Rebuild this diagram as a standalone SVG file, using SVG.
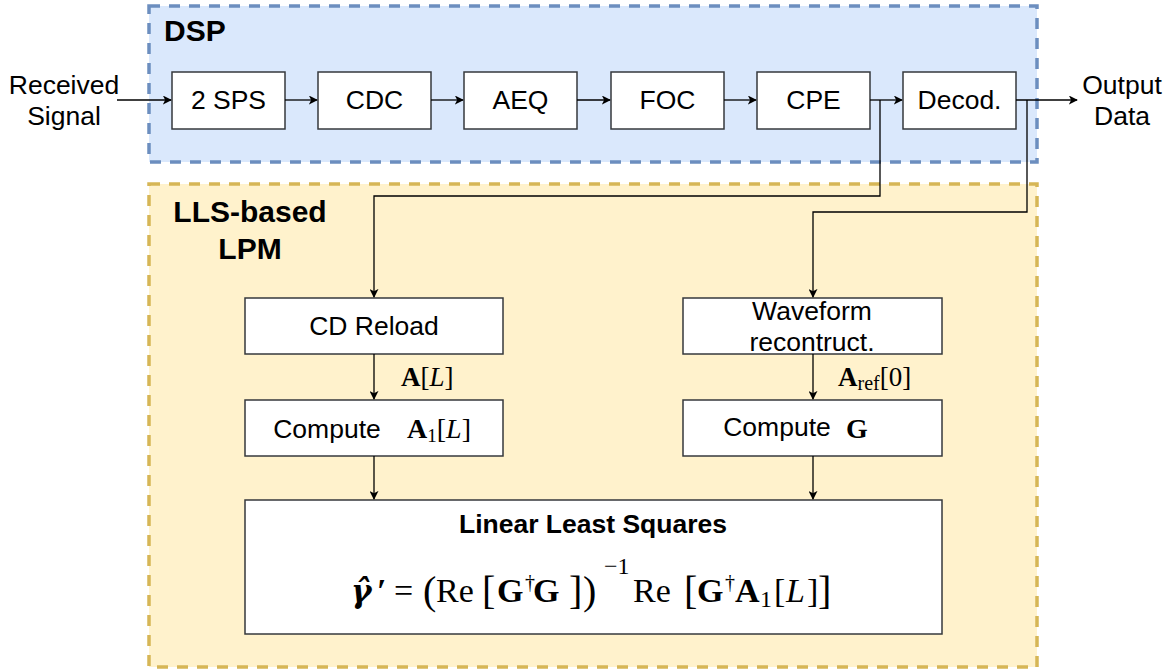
<svg xmlns="http://www.w3.org/2000/svg" width="1173" height="672" viewBox="0 0 1173 672">
  <defs>
    <marker id="arrow" viewBox="0 0 10 10" refX="9" refY="5" markerWidth="9" markerHeight="9" markerUnits="userSpaceOnUse" orient="auto">
      <path d="M0,0 L10,5 L0,10 L2.5,5 Z" fill="#000"/>
    </marker>
    <style>
      .group-dsp { fill: #dae8fc; stroke: #6c8ebf; stroke-width: 3.5; stroke-dasharray: 11 9; }
      .group-lpm { fill: #fff2cc; stroke: #d6b656; stroke-width: 3.5; stroke-dasharray: 11 9; }
      .box { fill: #ffffff; stroke: #36393d; stroke-width: 1.5; }
      .lbl { font-family: "Liberation Sans", Arial, sans-serif; font-size: 26.5px; fill: #000; text-anchor: middle; }
      .title { font-family: "Liberation Sans", Arial, sans-serif; font-size: 30px; font-weight: bold; fill: #000; }
      .subtitle { font-family: "Liberation Sans", Arial, sans-serif; font-size: 26.5px; font-weight: bold; fill: #000; text-anchor: middle; }
      .math { font-family: "Liberation Serif", "DejaVu Serif", serif; fill: #000; }
      .greek { font-family: "DejaVu Serif", serif; }
      .b { font-weight: bold; }
      .i { font-style: italic; }
      .arr { fill: none; stroke: #000; stroke-width: 1.3; marker-end: url(#arrow); }
    </style>
  </defs>

  <rect width="1173" height="672" fill="#ffffff"/>

  <!-- container groups -->
  <g id="dsp">
    <rect class="group-dsp" x="149" y="6" width="888" height="156"/>
    <text class="title" x="164" y="41">DSP</text>
  </g>
  <g id="lpm">
    <rect class="group-lpm" x="149" y="184" width="888" height="483"/>
    <text class="title" x="250" y="222" text-anchor="middle">LLS-based</text>
    <text class="title" x="250" y="259" text-anchor="middle">LPM</text>
  </g>

  <!-- inputs / outputs -->
  <g id="received">
    <text class="lbl" x="64" y="94">Received</text>
    <text class="lbl" x="64" y="125">Signal</text>
  </g>
  <g id="output">
    <text class="lbl" x="1122" y="94">Output</text>
    <text class="lbl" x="1122" y="125">Data</text>
  </g>

  <!-- DSP chain -->
  <g id="sps">
    <rect class="box" x="172" y="72" width="113" height="57"/>
    <text class="lbl" x="228.5" y="109">2 SPS</text>
  </g>
  <g id="cdc">
    <rect class="box" x="318" y="72" width="113" height="57"/>
    <text class="lbl" x="374.5" y="109">CDC</text>
  </g>
  <g id="aeq">
    <rect class="box" x="464" y="72" width="113" height="57"/>
    <text class="lbl" x="520.5" y="109">AEQ</text>
  </g>
  <g id="foc">
    <rect class="box" x="611" y="72" width="113" height="57"/>
    <text class="lbl" x="667.5" y="109">FOC</text>
  </g>
  <g id="cpe">
    <rect class="box" x="757" y="72" width="113" height="57"/>
    <text class="lbl" x="813.5" y="109">CPE</text>
  </g>
  <g id="decod">
    <rect class="box" x="903" y="72" width="113" height="57"/>
    <text class="lbl" x="959.5" y="109">Decod.</text>
  </g>

  <!-- LPM blocks -->
  <g id="cd-reload">
    <rect class="box" x="245" y="298" width="258" height="56"/>
    <text class="lbl" x="374" y="335">CD Reload</text>
  </g>
  <g id="compute-a1">
    <rect class="box" x="245" y="400" width="258" height="56"/>
    <text class="lbl" x="327" y="438">Compute</text>
    <text class="math" x="407" y="438" font-size="28"><tspan class="b">A</tspan><tspan font-size="19" dy="4">1</tspan><tspan dy="-4">[</tspan><tspan class="i">L</tspan>]</text>
  </g>
  <g id="waveform">
    <rect class="box" x="683" y="298" width="259" height="56"/>
    <text class="lbl" x="812" y="320">Waveform</text>
    <text class="lbl" x="812" y="351">recontruct.</text>
  </g>
  <g id="compute-g">
    <rect class="box" x="683" y="400" width="259" height="56"/>
    <text class="lbl" x="777" y="436">Compute</text>
    <text class="math b" x="846" y="438" font-size="28">G</text>
  </g>
  <g id="lls">
    <rect class="box" x="245" y="500" width="697" height="134"/>
    <text class="subtitle" x="593" y="533">Linear Least Squares</text>
    <text class="math" y="602" font-size="34"><tspan x="351" class="greek b i" font-size="31">γ̂</tspan><tspan x="377" class="b">′</tspan><tspan x="394">=</tspan><tspan x="423" font-size="40" dy="2">(</tspan><tspan x="436" dy="-2">Re</tspan><tspan x="482" font-size="40" dy="2">[</tspan><tspan x="497" class="b" dy="-2">G</tspan><tspan x="525" font-size="20" dy="-13">†</tspan><tspan x="533" class="b" dy="13">G</tspan><tspan x="569" font-size="40" dy="2">]</tspan><tspan x="583" font-size="40">)</tspan><tspan x="604" font-size="24" dy="-30">−1</tspan><tspan x="633" dy="28">Re</tspan><tspan x="684" font-size="40" dy="2">[</tspan><tspan x="697" class="b" dy="-2">G</tspan><tspan x="725" font-size="20" dy="-13">†</tspan><tspan x="735" class="b" dy="13">A</tspan><tspan x="760" font-size="24" dy="5">1</tspan><tspan x="774" dy="-5">[</tspan><tspan x="786" class="i">L</tspan><tspan x="807">]</tspan><tspan x="818" font-size="40" dy="2">]</tspan></text>
  </g>

  <!-- connectors -->
  <g id="connectors">
    <path class="arr" d="M117,100 H171"/>
    <path class="arr" d="M285,100 H317"/>
    <path class="arr" d="M431,100 H463"/>
    <path class="arr" d="M577,100 H610"/>
    <path class="arr" d="M724,100 H756"/>
    <path class="arr" d="M870,100 H902"/>
    <path class="arr" d="M1016,100 H1077"/>
    <path class="arr" d="M880,100 V196 H374 V297"/>
    <path class="arr" d="M1027,100 V212 H813 V297"/>
    <path class="arr" d="M374,354 V399"/>
    <path class="arr" d="M813,354 V399"/>
    <path class="arr" d="M374,456 V499"/>
    <path class="arr" d="M813,456 V499"/>
  </g>

  <!-- connector labels -->
  <g id="edge-labels">
    <text class="math" x="401" y="386" font-size="27"><tspan class="b">A</tspan>[<tspan class="i">L</tspan>]</text>
    <text class="math" x="838" y="386" font-size="27"><tspan class="b">A</tspan><tspan font-size="20" dy="4">ref</tspan><tspan dy="-4">[0]</tspan></text>
  </g>
</svg>
